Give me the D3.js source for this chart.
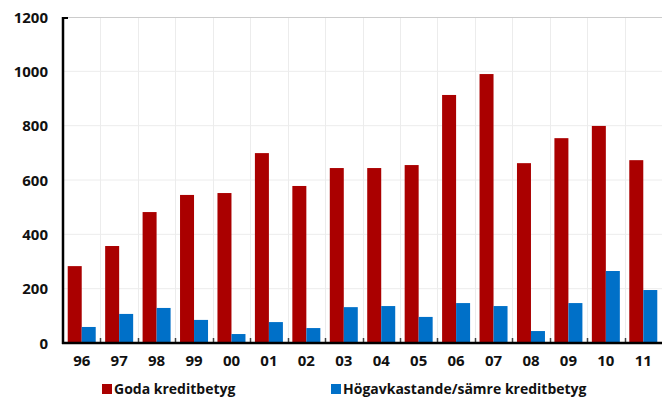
<!DOCTYPE html>
<html>
<head>
<meta charset="utf-8">
<script src="https://cdn.jsdelivr.net/npm/d3@7"></script>
<style>
  html, body { margin: 0; padding: 0; background: #fff; }
  svg text { font-family: "Open Sans", "DejaVu Sans", sans-serif; font-weight: bold; fill: #111; }
</style>
</head>
<body>
<svg id="chart" width="662" height="397"></svg>
<script>
// Years (two-digit labels)
const years = ["96","97","98","99","00","01","02","03","04","05","06","07","08","09","10","11"];
// Issuance by credit rating
const goda = [283, 357, 482, 545, 552, 699, 578, 644, 644, 655, 913, 990, 662, 754, 799, 673];
const hogavkastande = [59, 107, 129, 85, 33, 77, 55, 132, 136, 96, 147, 136, 44, 147, 265, 195];
const seriesNames = ["Goda kreditbetyg", "Högavkastande/sämre kreditbetyg"];
const seriesColors = ["#AA0000", "#0070C8"];
const yTicks = [0, 200, 400, 600, 800, 1000, 1200];

const svg = d3.select("#chart");
const margin = { left: 63, top: 17, right: 0, bottom: 54 };
const W = 662, H = 397;
const innerW = W - margin.left - margin.right;
const innerH = H - margin.top - margin.bottom;

const g = svg.append("g").attr("transform", `translate(${margin.left},${margin.top})`);

const x = d3.scaleBand().domain(years).range([0, innerW]).paddingInner(0).paddingOuter(0);
const y = d3.scaleLinear().domain([0, 1200]).range([innerH, 0]);
const groupW = 28;
const xs = d3.scaleBand().domain([0, 1]).range([0, groupW]);

// horizontal gridlines
g.append("g").selectAll("line").data(yTicks.filter(d => d > 0 && d < 1200)).join("line")
  .attr("x1", 0).attr("x2", innerW)
  .attr("y1", d => y(d)).attr("y2", d => y(d))
  .attr("stroke", "#ececec").attr("stroke-width", 1);
// vertical gridlines at category boundaries
g.append("g").selectAll("line").data(years.slice(1)).join("line")
  .attr("x1", d => Math.round(x(d)) + 0.5).attr("x2", d => Math.round(x(d)) + 0.5)
  .attr("y1", 0).attr("y2", innerH)
  .attr("stroke", "#ececec").attr("stroke-width", 1);
// top frame line
g.append("line").attr("x1", 0).attr("x2", innerW).attr("y1", 0.5).attr("y2", 0.5)
  .attr("stroke", "#cccccc").attr("stroke-width", 1);

// bars
const groups = g.append("g").selectAll("g").data(years).join("g")
  .attr("transform", d => `translate(${x(d) + (x.bandwidth() - groupW) / 2},0)`);
[goda, hogavkastande].forEach((vals, si) => {
  groups.append("rect")
    .attr("x", xs(si))
    .attr("width", xs.bandwidth())
    .attr("y", (d, i) => y(vals[i]))
    .attr("height", (d, i) => innerH - y(vals[i]))
    .attr("fill", seriesColors[si]);
});

// y axis
const yAxis = g.append("g")
  .call(d3.axisLeft(y).tickValues(yTicks).tickFormat(d3.format("d")).tickSize(0).tickPadding(15));
yAxis.select(".domain").remove();
yAxis.selectAll("text").attr("font-size", 15).attr("dy", "0.35em");
g.append("line").attr("x1", 0).attr("x2", 0).attr("y1", 0).attr("y2", innerH + 1)
  .attr("stroke", "#000").attr("stroke-width", 2.5);
g.append("line").attr("x1", 0).attr("x2", 5).attr("y1", 1).attr("y2", 1)
  .attr("stroke", "#000").attr("stroke-width", 2);

// x axis
const xAxis = g.append("g").attr("transform", `translate(0,${innerH})`)
  .call(d3.axisBottom(x).tickSize(0).tickPadding(12));
xAxis.select(".domain").remove();
xAxis.selectAll("text").attr("font-size", 15);
g.append("g").selectAll("line").data(years.slice(1)).join("line")
  .attr("x1", d => Math.round(x(d)) + 0.5).attr("x2", d => Math.round(x(d)) + 0.5)
  .attr("y1", innerH - 5).attr("y2", innerH)
  .attr("stroke", "#444").attr("stroke-width", 1.5);
g.append("line").attr("x1", -1).attr("x2", innerW).attr("y1", innerH).attr("y2", innerH)
  .attr("stroke", "#000").attr("stroke-width", 2.5);

// legend
const legendX = [102, 331];
const leg = svg.append("g").selectAll("g").data(seriesNames).join("g")
  .attr("transform", (d, i) => `translate(${legendX[i]},384)`);
leg.append("rect").attr("width", 10).attr("height", 10).attr("fill", (d, i) => seriesColors[i]);
leg.append("text").attr("x", 12).attr("y", 9.5).attr("font-size", 14).text(d => d);
</script>
</body>
</html>
